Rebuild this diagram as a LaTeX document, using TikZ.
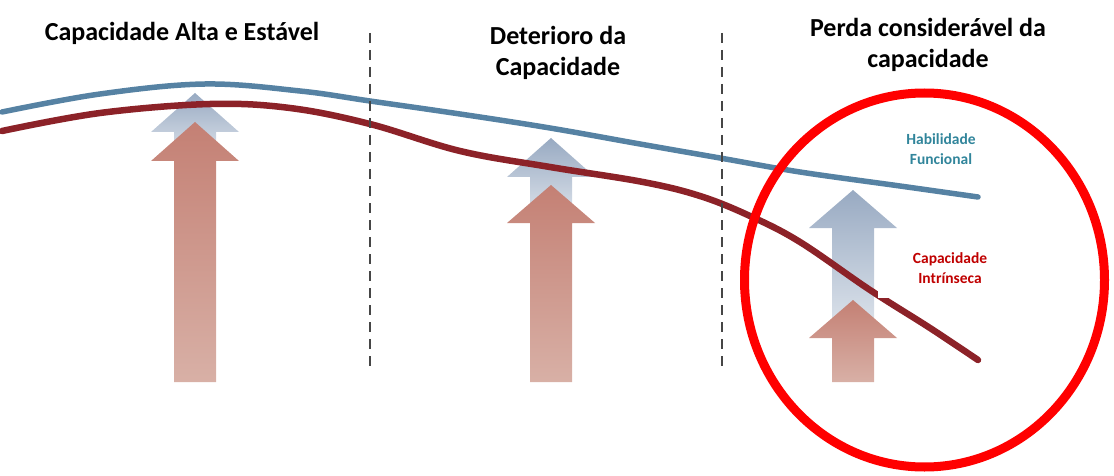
\documentclass[tikz,border=0pt]{standalone}
\usepackage{fontspec}
\setmainfont{Carlito}
\usetikzlibrary{shapes.geometric}
\definecolor{curveblue}{RGB}{86,130,163}
\definecolor{curvered}{RGB}{140,34,40}
\definecolor{redtop}{RGB}{196,128,116}
\definecolor{redbot}{RGB}{216,176,166}
\definecolor{bluetop}{RGB}{152,170,194}
\definecolor{bluebot}{RGB}{226,231,238}
\definecolor{dashgray}{RGB}{70,70,70}
\definecolor{labelblue}{RGB}{49,133,155}
\definecolor{labelred}{RGB}{192,0,0}
\definecolor{ringred}{RGB}{255,0,0}
\newcommand\myarrowpoly[4]{% center, tip y, head base y, bottom y
  ({#1-21},#4) -- ({#1-21},#3) -- ({#1-44},#3) -- (#1,#2) -- ({#1+44},#3) -- ({#1+21},#3) -- ({#1+21},#4) -- cycle}
\tikzset{
  redarrow/.style={top color=redtop,bottom color=redbot},
  bluearrow/.style={top color=bluetop,bottom color=bluebot},
  bluecurve/.style={draw=curveblue,line width=5.5pt,line cap=round},
  redcurve/.style={draw=curvered,line width=6.5pt,line cap=round},
  divider/.style={draw=dashgray,line width=2.5pt,dash pattern=on 10pt off 7pt},
  title/.style={font=\fontsize{26}{31}\selectfont\bfseries,align=center,text=black},
  label/.style={font=\fontsize{15.5}{20}\selectfont\bfseries,align=center},
  ring/.style={draw=ringred,line width=9pt}
}
\begin{document}
\begin{tikzpicture}[x=1pt,y=-1pt]
\useasboundingbox (0,0) rectangle (1114,476);
% arrows
\shade[bluearrow] \myarrowpoly{195}{93}{132}{161};
\shade[redarrow] \myarrowpoly{195}{122}{161}{382};
\shade[bluearrow] \myarrowpoly{551}{138}{177}{223};
\shade[redarrow] \myarrowpoly{551}{185}{223}{382};
\shade[bluearrow] \myarrowpoly{853}{190}{228}{338};
\shade[redarrow] \myarrowpoly{853}{300}{338}{382};
% curves
\draw[bluecurve] plot[smooth,tension=0.6] coordinates {(2,112) (100,94) (205,84) (300,91) (370,101) (460,114) (550,128) (640,144) (720,158) (800,172) (900,186) (978,197)};
\draw[redcurve] plot[smooth,tension=0.6] coordinates {(2,131) (100,113) (210,104) (290,108) (370,124) (460,151) (550,167) (643,182) (700,196) (750,216) (800,242) (870,290) (930,328) (978,360)};
% dividers
\coordinate (d1t) at (370,33);
\coordinate (d1b) at (370,371);
\coordinate (d2t) at (722,33);
\coordinate (d2b) at (722,371);
\draw[divider] (d1t) -- (d1b);
\draw[divider] (d2t) -- (d2b);
% titles
\node[title] (t1) at (182,33) {Capacidade Alta e Estável};
\node[title] (t2) at (558,53) {Deterioro da\\Capacidade};
\node[title] (t3) at (928,45) {Perda considerável da\\capacidade};
% labels
\node[label,text=labelblue] (hf) at (941,149) {Habilidade\\Funcional};
\fill[white] (878,237) rectangle (1005,298);
\node[label,text=labelred] (ci) at (950,268) {Capacidade\\Intrínseca};
% ring
\node[ring,ellipse,minimum width=360pt,minimum height=374pt,inner sep=0pt] (circ) at (924.5,280) {};
\end{tikzpicture}
\end{document}
